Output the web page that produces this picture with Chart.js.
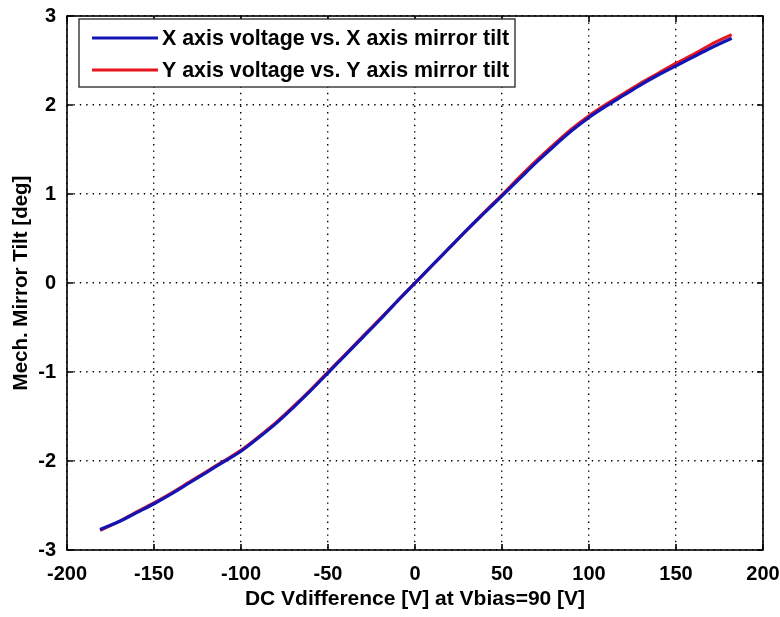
<!DOCTYPE html>
<html>
<head>
<meta charset="utf-8">
<script src="https://cdn.jsdelivr.net/npm/chart.js@4.4.1/dist/chart.umd.min.js"></script>
<style>
html,body{margin:0;padding:0;background:#fff;}
#wrap{width:780px;height:617px;position:relative;}
</style>
</head>
<body>
<div id="wrap"><canvas id="c" width="780" height="617"></canvas></div>
<script>
// ---- data ----
const voltage = [-181,-170,-160,-150,-140,-130,-120,-110,-100,-90,-80,-70,-60,-50,-40,-30,-20,-10,0,10,20,30,40,50,60,70,80,90,100,110,120,130,140,150,160,170,182];
const xAxisTilt = [-2.77,-2.68,-2.58,-2.48,-2.37,-2.25,-2.13,-2.01,-1.89,-1.74,-1.58,-1.40,-1.21,-1.01,-0.81,-0.61,-0.41,-0.20,0.00,0.20,0.40,0.60,0.79,0.98,1.17,1.36,1.54,1.71,1.86,1.99,2.11,2.23,2.34,2.44,2.54,2.64,2.75];
const yAxisTilt = [-2.78,-2.68,-2.57,-2.47,-2.36,-2.24,-2.12,-2.00,-1.88,-1.73,-1.57,-1.39,-1.20,-1.00,-0.80,-0.60,-0.40,-0.20,0.00,0.20,0.40,0.60,0.80,0.99,1.19,1.38,1.56,1.73,1.88,2.01,2.13,2.25,2.36,2.47,2.57,2.68,2.79];
const seriesLabels = ["X axis voltage vs. X axis mirror tilt","Y axis voltage vs. Y axis mirror tilt"];
const xTickValues = [-200,-150,-100,-50,0,50,100,150,200];
const xTickLabels = ["-200","-150","-100","-50","0","50","100","150","200"];
const yTickValues = [-3,-2,-1,0,1,2,3];
const yTickLabels = ["-3","-2","-1","0","1","2","3"];
const xTitle = "DC Vdifference [V] at Vbias=90 [V]";
const yTitle = "Mech. Mirror Tilt [deg]";

const regular = '"Liberation Sans",Arial,sans-serif';

function pts(xs, ys){ return xs.map((x,i)=>({x:x,y:ys[i]})); }

const boxPlugin = {
  id:'boxPlugin',
  afterDatasetsDraw(chart){
    const ctx = chart.ctx, a = chart.chartArea;
    const xs = chart.scales.x, ys = chart.scales.y;
    ctx.save();
    ctx.strokeStyle = '#000';
    ctx.lineWidth = 1.6;
    const tl = 6;
    ctx.beginPath();
    xTickValues.forEach(v=>{
      const px = xs.getPixelForValue(v);
      ctx.moveTo(px,a.bottom); ctx.lineTo(px,a.bottom-tl);
      ctx.moveTo(px,a.top); ctx.lineTo(px,a.top+tl);
    });
    yTickValues.forEach(v=>{
      const py = ys.getPixelForValue(v);
      ctx.moveTo(a.left,py); ctx.lineTo(a.left+tl,py);
      ctx.moveTo(a.right,py); ctx.lineTo(a.right-tl,py);
    });
    ctx.stroke();
    ctx.strokeRect(a.left,a.top,a.right-a.left,a.bottom-a.top);

    // legend
    const lx = a.left+12, ly = a.top+3, lw = 436, lh = 68;
    ctx.fillStyle = '#fff';
    ctx.fillRect(lx,ly,lw,lh);
    ctx.lineWidth = 1.3;
    ctx.strokeStyle = '#222';
    ctx.strokeRect(lx,ly,lw,lh);
    const rows = [ly+19, ly+51];
    chart.data.datasets.forEach((ds,i)=>{
      ctx.strokeStyle = ds.borderColor;
      ctx.lineWidth = 3;
      ctx.beginPath();
      ctx.moveTo(lx+13,rows[i]); ctx.lineTo(lx+79,rows[i]);
      ctx.stroke();
      ctx.fillStyle = '#000';
      ctx.font = 'bold 21.4px '+regular;
      ctx.textBaseline = 'middle';
      ctx.fillText(ds.label, lx+83, rows[i]+1);
    });
    ctx.restore();
  }
};

new Chart(document.getElementById('c'),{
  type:'scatter',
  data:{
    datasets:[
      {label:seriesLabels[0], data:pts(voltage,xAxisTilt), borderColor:'#1414b4', backgroundColor:'#1414b4', showLine:true, borderWidth:3.2, pointRadius:0, tension:0.3},
      {label:seriesLabels[1], data:pts(voltage,yAxisTilt), borderColor:'#e8141e', backgroundColor:'#e8141e', showLine:true, borderWidth:3, pointRadius:0, tension:0.3}
    ]
  },
  plugins:[boxPlugin],
  options:{
    responsive:false,
    animation:false,
    devicePixelRatio:1,
    layout:{padding:{top:16,right:17,left:0,bottom:0}},
    plugins:{legend:{display:false},tooltip:{enabled:false}},
    scales:{
      x:{
        type:'linear', min:-200, max:200,
        afterBuildTicks(s){ s.ticks = xTickValues.map(v=>({value:v})); },
        afterFit(s){ s.height = 67; s.paddingLeft=0; s.paddingRight=0; },
        ticks:{ callback:(v,i)=>xTickLabels[i], color:'#000', padding:12, maxRotation:0, autoSkip:false,
          font:{family:regular, size:20, weight:'bold'} },
        grid:{ color:'#000', lineWidth:1.4, drawTicks:false },
        border:{ display:false, dash:[1.4,5] },
        title:{ display:true, text:xTitle, color:'#000', padding:{top:0,bottom:5},
          font:{family:regular, size:21, weight:'bold'} }
      },
      y:{
        type:'linear', min:-3, max:3,
        afterBuildTicks(s){ s.ticks = yTickValues.map(v=>({value:v})); },
        afterFit(s){ s.width = 67; s.paddingTop=0; s.paddingBottom=0; },
        ticks:{ callback:(v,i)=>yTickLabels[i], color:'#000', padding:11, autoSkip:false,
          font:{family:regular, size:20, weight:'bold'} },
        grid:{ color:'#000', lineWidth:1.4, drawTicks:false },
        border:{ display:false, dash:[1.4,5] },
        title:{ display:true, text:yTitle, color:'#000', padding:{top:9,bottom:0},
          font:{family:regular, size:20.5, weight:'bold'} }
      }
    }
  }
});
</script>
</body>
</html>
